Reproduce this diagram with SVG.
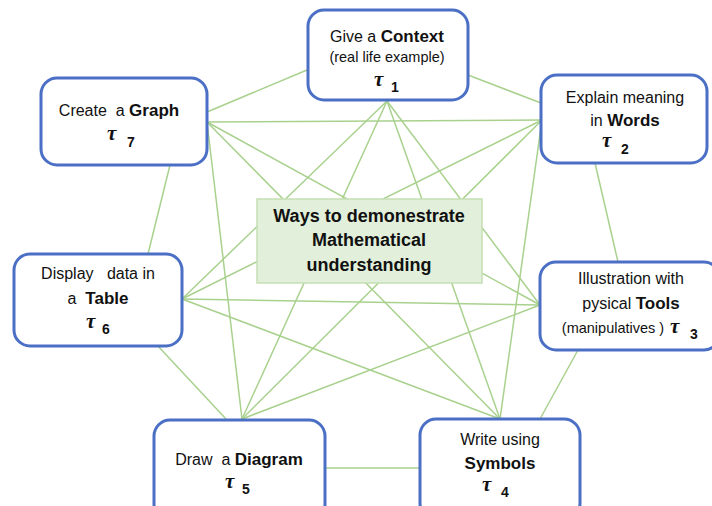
<svg xmlns="http://www.w3.org/2000/svg" width="712" height="506" viewBox="0 0 712 506">
<style>
.node{fill:#fff;stroke:#4a6fc4;stroke-width:3}
.edge{stroke:#a9d18e;stroke-width:1.5;fill:none}
.t{font-family:"Liberation Sans",Arial,sans-serif;font-size:16px;fill:#111;text-anchor:middle}
.s{font-size:14.5px}
.b{font-weight:bold;font-size:17px}
.tau{font-family:"Liberation Serif","DejaVu Serif",serif;font-weight:bold;font-style:italic;font-size:21px;fill:#111}
.sub{font-family:"Liberation Sans",Arial,sans-serif;font-weight:bold;font-size:14px;fill:#111}
.ctext{font-family:"Liberation Sans",Arial,sans-serif;font-weight:bold;font-size:18px;fill:#111;text-anchor:middle}
</style>
<rect width="712" height="506" fill="#fff"/>
<g id="connectors">
<line class="edge" x1="307" y1="70" x2="207" y2="112"/>
<line class="edge" x1="468" y1="75" x2="541" y2="103"/>
<line class="edge" x1="595" y1="163" x2="618" y2="262"/>
<line class="edge" x1="578" y1="350" x2="540" y2="419"/>
<line class="edge" x1="325" y1="468" x2="420" y2="468"/>
<line class="edge" x1="157" y1="345" x2="226" y2="419"/>
<line class="edge" x1="170" y1="165" x2="148" y2="254"/>
<line class="edge" x1="387" y1="101" x2="182" y2="299"/>
<line class="edge" x1="387" y1="101" x2="242" y2="419"/>
<line class="edge" x1="387" y1="101" x2="500" y2="419"/>
<line class="edge" x1="387" y1="101" x2="540" y2="305"/>
<line class="edge" x1="207" y1="122" x2="542" y2="120"/>
<line class="edge" x1="207" y1="122" x2="242" y2="419"/>
<line class="edge" x1="207" y1="122" x2="500" y2="419"/>
<line class="edge" x1="207" y1="122" x2="540" y2="305"/>
<line class="edge" x1="542" y1="120" x2="182" y2="299"/>
<line class="edge" x1="542" y1="120" x2="242" y2="419"/>
<line class="edge" x1="542" y1="120" x2="500" y2="419"/>
<line class="edge" x1="182" y1="299" x2="540" y2="305"/>
<line class="edge" x1="182" y1="299" x2="500" y2="419"/>
<line class="edge" x1="540" y1="305" x2="242" y2="419"/>
</g>
<g id="center">
<rect x="257" y="199" width="225" height="84" fill="#e2efda" stroke="#c5e0b4" stroke-width="1.5"/>
<text class="ctext" x="369" y="222">Ways to demonestrate</text>
<text class="ctext" x="369" y="246">Mathematical</text>
<text class="ctext" x="369" y="271">understanding</text>
</g>
<g id="n1">
<rect class="node" x="308" y="10" width="160" height="90" rx="16"/>
<text class="t" x="387" y="42">Give a <tspan class="b">Context</tspan></text>
<text class="t s" x="387" y="62">(real life example)</text>
<text class="tau" x="374" y="86">τ</text><text class="sub" x="391" y="92">1</text>
</g>
<g id="n2">
<rect class="node" x="541" y="75" width="166" height="88" rx="16"/>
<text class="t" x="625" y="103">Explain meaning</text>
<text class="t" x="625" y="126">in <tspan class="b">Words</tspan></text>
<text class="tau" x="602" y="147">τ</text><text class="sub" x="621" y="154">2</text>
</g>
<g id="n3">
<rect class="node" x="540" y="262" width="180" height="88" rx="16"/>
<text class="t" x="631" y="284">Illustration with</text>
<text class="t" x="631" y="309">pysical <tspan class="b">Tools</tspan></text>
<text class="t s" x="613" y="333">(manipulatives )</text>
<text class="tau" x="670" y="333">τ</text><text class="sub" x="690" y="339">3</text>
</g>
<g id="n4">
<rect class="node" x="420" y="419" width="160" height="100" rx="16"/>
<text class="t" x="500" y="445">Write using</text>
<text class="t b" x="500" y="469">Symbols</text>
<text class="tau" x="482" y="491">τ</text><text class="sub" x="501" y="497">4</text>
</g>
<g id="n5">
<rect class="node" x="154" y="420" width="171" height="100" rx="16"/>
<text class="t" x="239" y="465" xml:space="preserve">Draw  a <tspan class="b">Diagram</tspan></text>
<text class="tau" x="225" y="488">τ</text><text class="sub" x="242" y="494">5</text>
</g>
<g id="n6">
<rect class="node" x="14" y="254" width="168" height="92" rx="16"/>
<text class="t" x="98" y="279" xml:space="preserve">Display   data in</text>
<text class="t" x="98" y="304" xml:space="preserve">a  <tspan class="b">Table</tspan></text>
<text class="tau" x="86" y="328">τ</text><text class="sub" x="102" y="334">6</text>
</g>
<g id="n7">
<rect class="node" x="41" y="78" width="166" height="87" rx="16"/>
<text class="t" x="119" y="116" xml:space="preserve">Create  a <tspan class="b">Graph</tspan></text>
<text class="tau" x="107" y="140">τ</text><text class="sub" x="127" y="147">7</text>
</g>
</svg>
